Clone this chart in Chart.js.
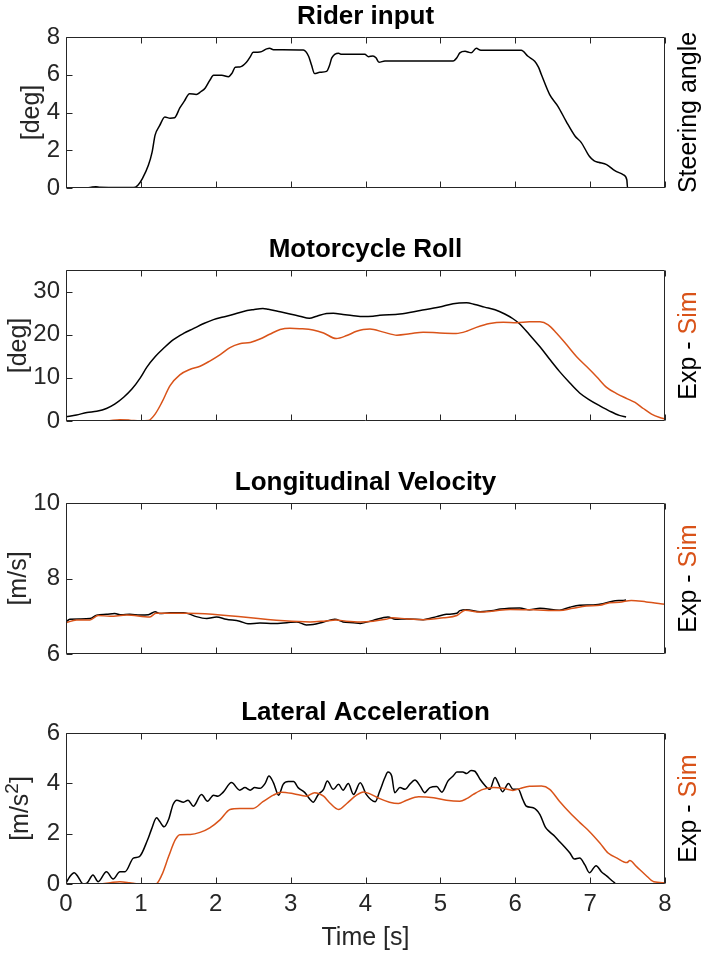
<!DOCTYPE html>
<html>
<head>
<meta charset="utf-8">
<script src="https://cdn.jsdelivr.net/npm/chart.js@4.4.1/dist/chart.umd.min.js"></script>
<style>
  html, body { margin: 0; padding: 0; background: #ffffff; }
  #fig { position: relative; width: 703px; height: 957px; overflow: hidden; }
  #fig canvas { position: absolute; left: 0; }
</style>
</head>
<body>
<div id="fig">
  <canvas id="steerChart" width="703" height="230" style="top:0px"></canvas>
  <canvas id="rollChart" width="703" height="230" style="top:233px"></canvas>
  <canvas id="velChart" width="703" height="230" style="top:466px"></canvas>
  <canvas id="accChart" width="703" height="261" style="top:696px"></canvas>
</div>
<script>
// ---- shared axis ticks ----
const timeTicks = [0, 1, 2, 3, 4, 5, 6, 7, 8];
const steerTicks = [0, 2, 4, 6, 8];
const rollTicks = [0, 10, 20, 30];
const velTicks = [6, 8, 10];
const accTicks = [0, 2, 4, 6];

// ---- rider input: steering angle [deg] ----
const steerT = [0, 0.28, 0.35, 0.40, 0.45, 0.60, 0.90, 0.96, 1.02, 1.10, 1.15, 1.19, 1.25, 1.32, 1.39, 1.45,
  1.52, 1.58, 1.65, 1.74, 1.80, 1.86, 1.92, 1.97, 2.08, 2.17, 2.22, 2.26, 2.32, 2.41, 2.46, 2.50,
  2.59, 2.68, 2.72, 2.77, 3.17, 3.24, 3.28, 3.32, 3.39, 3.48, 3.52, 3.55, 3.64, 3.68, 3.99, 4.04,
  4.10, 4.14, 4.18, 4.26, 5.17, 5.22, 5.26, 5.33, 5.37, 5.41, 5.48, 5.54, 6.08, 6.17, 6.26, 6.31,
  6.35, 6.46, 6.57, 6.68, 6.80, 6.88, 6.99, 7.05, 7.11, 7.22, 7.33, 7.44, 7.49, 7.50, 8.00];
const steerDeg = [0, 0, 0.05, 0.07, 0.04, 0.03, 0.02, 0.15, 0.5, 1.2, 1.9, 2.8, 3.3, 3.76, 3.7, 3.72,
  4.24, 4.6, 5.0, 4.96, 5.1, 5.3, 5.7, 5.97, 5.97, 5.9, 6.1, 6.4, 6.41, 6.66, 6.95, 7.19,
  7.2, 7.37, 7.4, 7.33, 7.31, 6.98, 6.5, 6.06, 6.13, 6.18, 6.5, 6.89, 7.14, 7.08, 7.08, 6.96,
  7.0, 6.9, 6.66, 6.73, 6.73, 6.9, 7.16, 7.24, 7.2, 7.16, 7.4, 7.3, 7.3, 6.98, 6.71, 6.4,
  6.0, 4.95, 4.33, 3.53, 2.74, 2.42, 1.68, 1.45, 1.36, 1.24, 0.92, 0.71, 0.44, 0, 0];

// ---- motorcycle roll [deg] ----
const rollExpT = [0, 0.14, 0.28, 0.41, 0.54, 0.65, 0.77, 0.88, 0.99, 1.08, 1.19, 1.30, 1.43, 1.57, 1.70, 1.84,
  1.97, 2.10, 2.23, 2.37, 2.50, 2.63, 2.70, 2.86, 2.99, 3.12, 3.25, 3.35, 3.48, 3.57, 3.70, 3.84,
  3.97, 4.10, 4.19, 4.46, 4.73, 4.99, 5.17, 5.35, 5.46, 5.59, 5.73, 5.86, 5.97, 6.06, 6.19, 6.33,
  6.46, 6.59, 6.73, 6.86, 6.99, 7.13, 7.26, 7.39, 7.48];
const rollExp = [0.94, 1.4, 1.96, 2.27, 2.9, 3.9, 5.5, 7.4, 9.95, 12.5, 14.9, 16.8, 18.8, 20.3, 21.4, 22.6,
  23.5, 24.1, 24.7, 25.4, 25.8, 26.1, 25.9, 25.3, 24.8, 24.3, 23.8, 24.3, 24.9, 25.0, 24.7, 24.4,
  24.2, 24.3, 24.5, 24.8, 25.6, 26.4, 27.2, 27.4, 27.0, 26.4, 25.8, 24.8, 23.7, 22.5, 20.0, 17.2,
  14.3, 11.5, 8.8, 6.5, 4.9, 3.5, 2.3, 1.3, 0.94];
const rollSimT = [0, 0.54, 0.72, 0.85, 0.99, 1.10, 1.19, 1.28, 1.39, 1.52, 1.66, 1.79, 1.92, 2.06, 2.19, 2.32,
  2.46, 2.59, 2.72, 2.86, 2.99, 3.12, 3.30, 3.44, 3.61, 3.75, 3.88, 3.97, 4.06, 4.24, 4.42, 4.59,
  4.77, 4.99, 5.21, 5.35, 5.48, 5.66, 5.84, 6.02, 6.19, 6.33, 6.44, 6.55, 6.69, 6.82, 6.96, 7.09,
  7.22, 7.36, 7.49, 7.60, 7.71, 7.82, 7.93, 8.00];
const rollSim = [0, 0, 0.3, 0.2, 0, 0.1, 1.6, 4.3, 8.2, 10.7, 12.0, 12.7, 13.9, 15.4, 17.0, 17.9,
  18.2, 19.0, 20.1, 21.2, 21.5, 21.4, 21.1, 20.4, 19.1, 19.8, 20.8, 21.2, 21.3, 20.6, 19.9, 20.2,
  20.6, 20.4, 20.3, 20.8, 21.7, 22.6, 22.9, 22.8, 23.0, 23.0, 22.3, 20.4, 17.6, 14.9, 12.5, 10.2,
  7.8, 6.3, 5.2, 4.3, 2.9, 1.6, 0.8, 0.5];

// ---- longitudinal velocity [m/s] ----
const velExpT = [0, 0.05, 0.19, 0.32, 0.41, 0.54, 0.65, 0.74, 0.85, 0.99, 1.10, 1.19, 1.25, 1.39, 1.57, 1.63,
  1.74, 1.88, 2.01, 2.14, 2.32, 2.43, 2.59, 2.77, 2.95, 3.08, 3.21, 3.30, 3.44, 3.59, 3.70, 3.84,
  3.93, 4.10, 4.30, 4.40, 4.55, 4.77, 4.95, 5.08, 5.22, 5.26, 5.35, 5.53, 5.71, 5.80, 6.06, 6.19,
  6.33, 6.59, 6.73, 6.86, 7.04, 7.17, 7.30, 7.43, 7.48];
const velExp = [6.85, 6.92, 6.93, 6.94, 7.03, 7.05, 7.07, 7.04, 7.05, 7.03, 7.04, 7.12, 7.07, 7.09, 7.09, 7.07,
  6.99, 6.94, 6.98, 6.92, 6.87, 6.80, 6.82, 6.81, 6.83, 6.85, 6.77, 6.78, 6.85, 6.92, 6.85, 6.83,
  6.81, 6.89, 6.98, 6.92, 6.93, 6.91, 6.99, 7.05, 7.08, 7.15, 7.17, 7.12, 7.15, 7.19, 7.22, 7.17,
  7.21, 7.16, 7.24, 7.29, 7.30, 7.33, 7.40, 7.42, 7.43];
const velSimT = [0, 0.14, 0.32, 0.43, 0.59, 0.81, 1.12, 1.20, 1.61, 3.26, 3.44, 3.61, 3.74, 3.93, 4.10, 4.27,
  4.36, 4.55, 4.77, 5.04, 5.22, 5.33, 5.53, 5.71, 5.93, 6.24, 6.59, 6.77, 6.95, 7.13, 7.26, 7.39,
  7.55, 7.75, 8.00];
const velSim = [6.83, 6.9, 6.9, 7.02, 7.0, 7.03, 6.98, 7.08, 7.08, 6.85, 6.87, 6.9, 6.87, 6.85, 6.87, 6.92,
  6.96, 6.93, 6.91, 6.96, 7.02, 7.16, 7.11, 7.14, 7.18, 7.17, 7.15, 7.21, 7.27, 7.29, 7.36, 7.37,
  7.42, 7.38, 7.32];

// ---- lateral acceleration [m/s^2] ----
const accExpT = [0, 0.05, 0.11, 0.16, 0.23, 0.28, 0.36, 0.43, 0.54, 0.63, 0.72, 0.79, 0.90, 0.98, 1.09, 1.14,
  1.21, 1.25, 1.31, 1.37, 1.43, 1.48, 1.57, 1.63, 1.70, 1.81, 1.89, 1.97, 2.03, 2.10, 2.21, 2.32,
  2.39, 2.46, 2.52, 2.59, 2.66, 2.71, 2.77, 2.84, 2.90, 2.97, 3.04, 3.10, 3.19, 3.26, 3.30, 3.37,
  3.44, 3.49, 3.57, 3.64, 3.70, 3.77, 3.84, 3.93, 4.01, 4.13, 4.19, 4.26, 4.30, 4.35, 4.39, 4.46,
  4.53, 4.59, 4.66, 4.73, 4.79, 4.86, 4.95, 5.02, 5.10, 5.17, 5.22, 5.30, 5.35, 5.41, 5.46, 5.53,
  5.59, 5.66, 5.73, 5.77, 5.83, 5.91, 5.97, 6.04, 6.10, 6.15, 6.24, 6.33, 6.40, 6.46, 6.53, 6.59,
  6.66, 6.73, 6.79, 6.86, 6.93, 6.99, 7.08, 7.15, 7.22, 7.31, 7.35, 7.48];
const accExp = [0.03, 0.29, 0.45, 0.29, 0, 0.03, 0.36, 0.09, 0.49, 0.2, 0.49, 0.49, 1.03, 1.09, 1.76, 2.16,
  2.63, 2.49, 2.27, 2.56, 3.16, 3.33, 3.25, 3.33, 3.09, 3.56, 3.29, 3.53, 3.49, 3.65, 4.03, 3.73,
  3.83, 3.73, 3.83, 3.80, 4.0, 4.29, 4.03, 3.53, 3.96, 4.07, 4.07, 3.83, 3.63, 3.36, 3.25, 3.56,
  3.76, 4.09, 3.76, 3.96, 3.73, 3.99, 3.56, 4.02, 3.56, 3.27, 3.69, 4.23, 4.45, 4.29, 3.63, 3.83,
  3.76, 3.96, 4.13, 3.89, 3.63, 3.83, 3.87, 3.65, 4.09, 4.29, 4.45, 4.45, 4.39, 4.51, 4.48, 4.16,
  3.93, 3.76, 4.23, 4.03, 3.67, 3.99, 3.76, 3.76, 3.36, 3.09, 3.03, 2.76, 2.27, 2.07, 1.89, 1.69,
  1.47, 1.23, 0.99, 1.03, 0.76, 0.45, 0.73, 0.49, 0.32, 0.09, 0, 0];
const accSimT = [0, 0.45, 0.59, 0.72, 0.85, 0.97, 1.20, 1.28, 1.37, 1.46, 1.52, 1.66, 1.79, 1.92, 2.06, 2.19,
  2.32, 2.50, 2.63, 2.77, 2.88, 3.04, 3.21, 3.32, 3.44, 3.52, 3.64, 3.75, 3.88, 3.97, 4.06, 4.19,
  4.32, 4.44, 4.55, 4.71, 4.91, 5.08, 5.26, 5.35, 5.44, 5.57, 5.71, 5.84, 5.97, 6.06, 6.19, 6.35,
  6.46, 6.59, 6.73, 6.86, 6.99, 7.13, 7.24, 7.36, 7.49, 7.53, 7.62, 7.74, 7.85, 8.00];
const accSim = [0, 0, 0.05, 0.09, 0.05, 0, 0, 0.36, 1.09, 1.76, 1.96, 1.97, 2.05, 2.23, 2.56, 2.96,
  3.0, 3.0, 3.27, 3.53, 3.65, 3.59, 3.49, 3.63, 3.49, 3.23, 2.96, 3.2, 3.53, 3.66, 3.58, 3.39,
  3.25, 3.2, 3.33, 3.47, 3.43, 3.33, 3.29, 3.39, 3.56, 3.76, 3.83, 3.80, 3.72, 3.79, 3.88, 3.89,
  3.76, 3.29, 2.83, 2.45, 2.09, 1.63, 1.23, 1.03, 0.85, 0.93, 0.69, 0.36, 0.09, 0.05];

// ---- styling ----
const FONT = "'Liberation Sans', Arial, Helvetica, sans-serif";
const AXIS_COLOR = '#262626';
const EXP_COLOR = '#000000';
const SIM_COLOR = '#D95319';

function points(ts, vs) {
  return ts.map((t, i) => ({ x: t, y: vs[i] }));
}

// draw a run of text pieces rotated to read bottom-to-top, centred at (cx, cy)
function drawRotatedParts(ctx, parts, cx, cy) {
  ctx.save();
  ctx.textBaseline = 'alphabetic';
  ctx.textAlign = 'left';
  let total = 0;
  parts.forEach(p => { ctx.font = p.size + 'px ' + FONT; total += ctx.measureText(p.text).width; });
  ctx.translate(cx, cy);
  ctx.rotate(-Math.PI / 2);
  let px = -total / 2;
  parts.forEach(p => {
    ctx.font = p.size + 'px ' + FONT;
    ctx.fillStyle = p.color;
    ctx.fillText(p.text, px, 9 - (p.rise || 0));
    px += ctx.measureText(p.text).width;
  });
  ctx.restore();
}

// Box frame, inward tick marks, panel title and rotated side labels
const framePlugin = {
  id: 'boxFrame',
  afterDatasetsDraw(chart, args, opts) {
    const { ctx, chartArea: a, scales } = chart;
    const x = scales.x, y = scales.y;
    const L = Math.round(a.left) + 0.5, R = Math.round(a.right) - 0.5;
    const T = Math.round(a.top) + 0.5, B = Math.round(a.bottom) - 0.5;
    const tl = 6;
    ctx.save();
    ctx.strokeStyle = AXIS_COLOR;
    ctx.lineWidth = 1;
    ctx.beginPath();
    ctx.rect(L, T, R - L, B - T);
    timeTicks.forEach(v => {
      const px = Math.round(x.getPixelForValue(v)) + 0.5;
      ctx.moveTo(px, B); ctx.lineTo(px, B - tl);
      ctx.moveTo(px, T); ctx.lineTo(px, T + tl);
    });
    opts.yTicks.forEach(v => {
      const py = Math.round(y.getPixelForValue(v)) + 0.5;
      ctx.moveTo(L, py); ctx.lineTo(L + tl, py);
    });
    ctx.stroke();

    // panel title, centred over the plot box
    ctx.fillStyle = '#000000';
    ctx.font = 'bold 26px ' + FONT;
    ctx.textAlign = 'center';
    ctx.textBaseline = 'middle';
    ctx.fillText(opts.title, (a.left + a.right) / 2, a.top - 20);
    ctx.restore();

    const midY = (a.top + a.bottom) / 2;
    drawRotatedParts(ctx, opts.sideLabel, 687, midY);
    if (opts.yLabelParts) drawRotatedParts(ctx, opts.yLabelParts, 19, midY);
  }
};

function makePanel(id, cfg) {
  const canvas = document.getElementById(id);
  const H = canvas.height;
  const showX = !!cfg.showX;
  return new Chart(canvas, {
    type: 'line',
    data: {
      datasets: cfg.series.map(s => ({
        data: points(s.t, s.v),
        borderColor: s.color,
        borderWidth: 1.5,
        pointRadius: 0,
        fill: false,
        cubicInterpolationMode: 'monotone',
        order: s.order
      }))
    },
    options: {
      responsive: false,
      animation: false,
      devicePixelRatio: 1,
      events: [],
      layout: { padding: { left: 0, right: 38, top: 37, bottom: showX ? 0 : H - 188 } },
      plugins: {
        legend: { display: false },
        tooltip: { enabled: false },
        title: { display: false },
        boxFrame: { yTicks: cfg.yTicks, sideLabel: cfg.sideLabel, title: cfg.title, yLabelParts: cfg.yLabelParts }
      },
      scales: {
        x: {
          type: 'linear',
          min: 0, max: 8,
          grid: { display: false, drawTicks: false },
          border: { display: false },
          afterBuildTicks: s => { s.ticks = timeTicks.map(v => ({ value: v })); },
          afterFit: s => { s.height = showX ? 73 : 0; },
          ticks: {
            display: showX,
            padding: 6,
            color: AXIS_COLOR,
            font: { family: FONT, size: 24 },
            maxRotation: 0,
            callback: v => String(v)
          },
          title: {
            display: showX,
            text: 'Time [s]',
            color: AXIS_COLOR,
            font: { family: FONT, size: 25 },
            padding: { top: 0, bottom: 4 }
          }
        },
        y: {
          type: 'linear',
          min: cfg.yMin, max: cfg.yMax,
          grid: { display: false, drawTicks: false },
          border: { display: false },
          afterBuildTicks: s => { s.ticks = cfg.yTicks.map(v => ({ value: v })); },
          afterFit: s => { s.width = 66; },
          ticks: {
            padding: 6,
            color: AXIS_COLOR,
            font: { family: FONT, size: 24 },
            callback: v => String(v)
          },
          title: {
            display: !cfg.yLabelParts,
            text: cfg.yLabel,
            color: AXIS_COLOR,
            font: { family: FONT, size: 25 },
            padding: { top: cfg.yTitlePad, bottom: 0 }
          }
        }
      }
    },
    plugins: [framePlugin]
  });
}

const expSimLabel = [{ text: 'Exp - ', color: EXP_COLOR, size: 25 }, { text: 'Sim', color: SIM_COLOR, size: 25 }];

makePanel('steerChart', {
  title: 'Rider input', yLabel: '[deg]', yMin: 0, yMax: 8, yTicks: steerTicks, yTitlePad: 17,
  sideLabel: [{ text: 'Steering angle', color: EXP_COLOR, size: 25 }],
  series: [{ t: steerT, v: steerDeg, color: EXP_COLOR, order: 1 }]
});

makePanel('rollChart', {
  title: 'Motorcycle Roll', yLabel: '[deg]', yMin: 0, yMax: 35, yTicks: rollTicks, yTitlePad: 4,
  sideLabel: expSimLabel,
  series: [
    { t: rollExpT, v: rollExp, color: EXP_COLOR, order: 1 },
    { t: rollSimT, v: rollSim, color: SIM_COLOR, order: 0 }
  ]
});

makePanel('velChart', {
  title: 'Longitudinal Velocity', yLabel: '[m/s]', yMin: 6, yMax: 10, yTicks: velTicks, yTitlePad: 4,
  sideLabel: expSimLabel,
  series: [
    { t: velExpT, v: velExp, color: EXP_COLOR, order: 1 },
    { t: velSimT, v: velSim, color: SIM_COLOR, order: 0 }
  ]
});

makePanel('accChart', {
  title: 'Lateral Acceleration', yLabel: '[m/s²]', yMin: 0, yMax: 6, yTicks: accTicks, yTitlePad: 4,
  yLabelParts: [
    { text: '[m/s', color: AXIS_COLOR, size: 25 },
    { text: '2', color: AXIS_COLOR, size: 19, rise: 10 },
    { text: ']', color: AXIS_COLOR, size: 25 }
  ],
  showX: true,
  sideLabel: expSimLabel,
  series: [
    { t: accExpT, v: accExp, color: EXP_COLOR, order: 1 },
    { t: accSimT, v: accSim, color: SIM_COLOR, order: 0 }
  ]
});
</script>
</body>
</html>
